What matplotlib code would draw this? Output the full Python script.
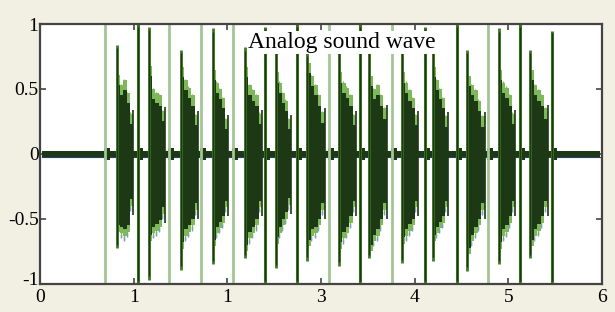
import numpy as np
import matplotlib
matplotlib.use("Agg")
import matplotlib.pyplot as plt
import matplotlib.transforms as mtransforms

# ---------------- data ----------------
# full-height spikes at the boundaries between bursts (seconds)
spike_t = [0.694, 1.046, 1.377, 1.719, 2.060, 2.402, 2.744, 3.085,
           3.416, 3.758, 4.110, 4.452, 4.783, 5.124, 5.466]
spike_top = [1.00, 1.00, 1.00, 1.00, 1.00, 0.98, 1.00, 1.00,
             1.00, 1.00, 0.98, 1.00, 1.00, 1.00, 0.95]
spike_bot = [-1.00, -1.00, -1.00, -1.00, -1.00, -1.00, -1.00, -1.00,
             -1.00, -1.00, -1.00, -1.00, -1.00, -1.00, -1.00]
spike_dark = [0, 1, 0, 0, 0, 1, 1, 0, 1, 0, 1, 1, 0, 1, 1]

# bursts (syllables): start / end time, onset peak, and stepped envelope
burst_start = [0.822, 1.164, 1.505, 1.847, 2.189, 2.519, 2.850,
               3.192, 3.512, 3.865, 4.196, 4.559, 4.900, 5.231]
burst_end = [0.993, 1.334, 1.687, 2.007, 2.370, 2.680, 3.043,
             3.374, 3.705, 4.035, 4.356, 4.751, 5.071, 5.423]
onset_top = [0.84, 0.98, 0.80, 0.97, 0.82, 0.92, 0.78,
             0.88, 0.85, 0.90, 0.95, 0.80, 0.97, 0.80]
onset_bot = [-0.72, -0.97, -0.89, -0.85, -0.80, -0.88, -0.82,
             -0.86, -0.80, -0.84, -0.82, -0.90, -0.85, -0.80]
env_top = [
    [0.56, 0.48, 0.52, 0.42, 0.26],
    [0.63, 0.45, 0.42, 0.40, 0.28],
    [0.62, 0.52, 0.46, 0.40, 0.25],
    [0.60, 0.50, 0.45, 0.38, 0.22],
    [0.62, 0.48, 0.44, 0.40, 0.26],
    [0.58, 0.50, 0.42, 0.36, 0.22],
    [0.65, 0.55, 0.48, 0.40, 0.27],
    [0.58, 0.50, 0.46, 0.40, 0.25],
    [0.55, 0.45, 0.48, 0.40, 0.30],
    [0.58, 0.50, 0.44, 0.38, 0.25],
    [0.62, 0.52, 0.45, 0.38, 0.24],
    [0.55, 0.48, 0.44, 0.36, 0.24],
    [0.60, 0.50, 0.46, 0.40, 0.26],
    [0.60, 0.48, 0.44, 0.40, 0.30],
]
env_bot = [
    [-0.55, -0.56, -0.58, -0.55, -0.35],
    [-0.62, -0.56, -0.54, -0.51, -0.41],
    [-0.68, -0.58, -0.55, -0.50, -0.38],
    [-0.66, -0.56, -0.52, -0.48, -0.36],
    [-0.70, -0.60, -0.56, -0.50, -0.36],
    [-0.64, -0.56, -0.50, -0.45, -0.34],
    [-0.66, -0.58, -0.56, -0.50, -0.38],
    [-0.68, -0.60, -0.56, -0.48, -0.36],
    [-0.70, -0.62, -0.58, -0.50, -0.38],
    [-0.64, -0.58, -0.54, -0.50, -0.36],
    [-0.62, -0.56, -0.52, -0.48, -0.36],
    [-0.72, -0.62, -0.56, -0.50, -0.38],
    [-0.68, -0.58, -0.55, -0.48, -0.36],
    [-0.66, -0.58, -0.54, -0.48, -0.36],
]

baseline_t = [0.02, 5.98]
baseline_amp = 0.02

xtick_vals = [0, 1, 2, 3, 4, 5, 6]
xtick_labels = ["0", "1", "1", "3", "4", "5", "6"]
ytick_vals = [-1, -0.5, 0, 0.5, 1]
ytick_labels = ["-1", "-0.5", "0", "0.5", "1"]
title_text = "Analog sound wave"

# ---------------- styling ----------------
FIG_BG = "#f2f0e2"
DARK = "#1d3814"
MID = "#3d7a20"
LIGHT = "#7fb85a"
PALE = "#a2c694"
BLUE = "#7a9cc8"

plt.rcParams["font.family"] = ["Liberation Serif", "DejaVu Serif"]

fig = plt.figure(figsize=(6.15, 3.12), dpi=100, facecolor=FIG_BG)
ax = fig.add_axes([0.065, 0.09, 0.914, 0.833])
ax.set_facecolor("white")

# baseline noise
ax.fill_between(baseline_t, [-baseline_amp] * 2, [baseline_amp] * 2,
                color=DARK, lw=0, zorder=2)
ax.plot(baseline_t, [-baseline_amp, -baseline_amp], color="#2a3f70",
        lw=0.8, zorder=2)

# bumps around boundaries
for t in spike_t:
    ax.fill_between([t - 0.01, t + 0.05], [-0.05, -0.05], [0.045, 0.045],
                    color=DARK, lw=0, zorder=2)

# boundary spikes
for t, top, bot, dk in zip(spike_t, spike_top, spike_bot, spike_dark):
    ax.vlines(t, bot, top, color=(MID if dk else PALE),
              lw=(2.2 if dk else 2.0), zorder=3)
    if dk:
        ax.vlines(t, bot * 0.98, top * 0.98, color=DARK, lw=1.0, zorder=3)

# bursts
for i in range(len(burst_start)):
    s, e = burst_start[i], burst_end[i]
    n = len(env_top[i])
    edges = np.linspace(s, e, n + 1)
    top = list(env_top[i]) + [env_top[i][-1]]
    bot = list(env_bot[i]) + [env_bot[i][-1]]
    # light fringe
    ax.fill_between(edges, [v + 0.06 for v in bot], [v + 0.05 for v in top],
                    step="post", color=LIGHT, lw=0, zorder=3)
    ax.fill_between(edges, [v - 0.05 for v in bot], [v for v in bot],
                    step="post", color=LIGHT, lw=0, zorder=3)
    # dark body
    ax.fill_between(edges, [v for v in bot], [v - 0.03 for v in top],
                    step="post", color=DARK, lw=0, zorder=4)
    # thin spikes at the step edges (jagged look)
    for k in range(n):
        xk = edges[k] + 0.004
        ax.vlines(xk, env_bot[i][k] - 0.08, env_top[i][k] + 0.06,
                  color=LIGHT, lw=1.0, zorder=3)
        ax.vlines(xk, env_bot[i][k] - 0.09, env_bot[i][k] - 0.06,
                  color=BLUE, lw=1.0, zorder=3)
    # onset spike
    ax.vlines(s, onset_bot[i], onset_top[i], color=MID, lw=2.0, zorder=5)
    ax.vlines(s, onset_bot[i] * 0.97, onset_top[i] * 0.97, color=DARK,
              lw=1.0, zorder=5)
    # closing small spike
    ax.vlines(e, bot[-1] - 0.12, top[-1] + 0.08, color=DARK, lw=1.2, zorder=5)

ax.set_xlim(0, 6)
ax.set_ylim(-1, 1)
ax.set_xticks(xtick_vals)
ax.set_xticklabels(xtick_labels)
ax.set_yticks(ytick_vals)
ax.set_yticklabels(ytick_labels)
ax.tick_params(direction="in", length=4, width=1.2, color="#444444",
               labelsize=14, top=True, right=True)
ax.tick_params(axis="x", pad=4)
ax.tick_params(axis="y", pad=1)
for sp in ax.spines.values():
    sp.set_color("#444444")
    sp.set_linewidth(1.6)
    sp.set_zorder(10)

# lift the "-1" label slightly so it does not collide with the x "0"
lbl = ax.get_yticklabels()[0]
lbl.set_transform(lbl.get_transform() +
                  mtransforms.ScaledTranslation(0, 4 / 72, fig.dpi_scale_trans))

ax.text(0.537, 0.93, title_text, transform=ax.transAxes, ha="center",
        va="center", fontsize=17, color="black", zorder=12,
        bbox=dict(boxstyle="square,pad=0.05", fc="white", ec="none"))

fig.savefig("out.png", dpi=100, facecolor=FIG_BG)
